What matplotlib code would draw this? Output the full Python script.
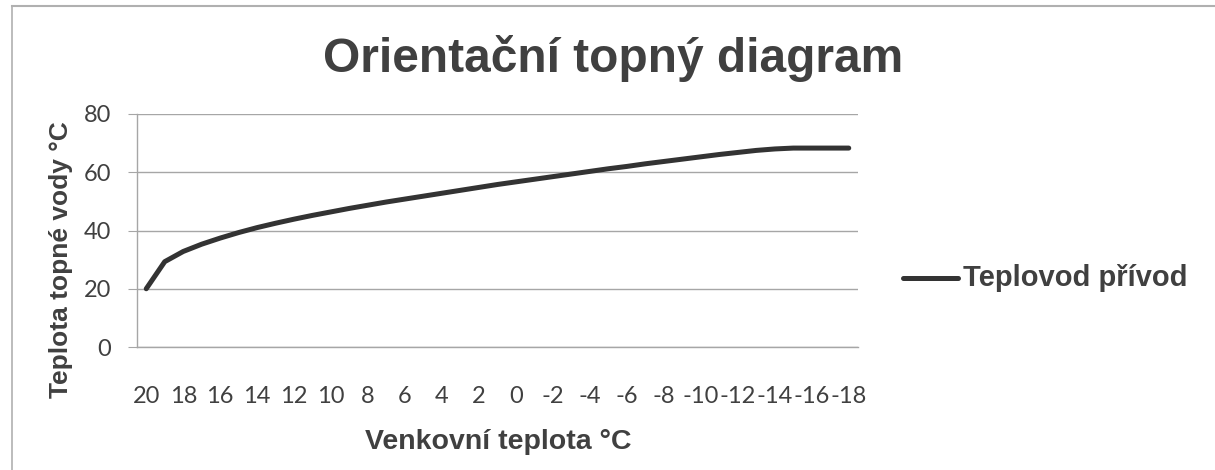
import matplotlib
matplotlib.use("Agg")
import matplotlib.pyplot as plt
from matplotlib.lines import Line2D

# outdoor temperature categories (°C), 20 down to -18
outdoor = list(range(20, -19, -1))
# supply water temperature (°C)
supply = [20, 29.3, 32.8, 35.3, 37.4, 39.3, 41.0, 42.5, 43.9, 45.2,
          46.4, 47.6, 48.7, 49.8, 50.8, 51.8, 52.8, 53.8, 54.8, 55.8,
          56.7, 57.6, 58.5, 59.4, 60.3, 61.2, 62.0, 62.9, 63.7, 64.5,
          65.3, 66.1, 66.8, 67.5, 68.0, 68.3, 68.3, 68.3, 68.3]
y_ticks = [0, 20, 40, 60, 80]

title = "Orientační topný diagram"
x_label = "Venkovní teplota °C"
y_label = "Teplota topné vody °C"
series_name = "Teplovod přívod"

text_col = "#404040"
grid_col = "#a6a6a6"

fig = plt.figure(figsize=(12.15, 4.70), dpi=100)
ax = fig.add_axes([137 / 1215, 1 - 347 / 470, (858 - 137) / 1215, (347 - 114) / 470])

pos = list(range(len(outdoor)))
ax.plot(pos, supply, color="#333333", lw=3.6, solid_capstyle="round",
        solid_joinstyle="round", zorder=3)

ax.set_xlim(-0.5, len(outdoor) - 0.5)
ax.set_ylim(0, 80)
ax.set_yticks(y_ticks)
ax.set_xticks(pos[::2])
ax.set_xticklabels([str(v) for v in outdoor[::2]])
ax.yaxis.grid(True, color=grid_col, lw=1)
ax.set_axisbelow(True)

for s in ["top", "right"]:
    ax.spines[s].set_visible(False)
for s in ["left", "bottom"]:
    ax.spines[s].set_color(grid_col)
    ax.spines[s].set_linewidth(1)

ax.tick_params(axis="y", length=6.5, color=grid_col, labelsize=17,
               labelcolor=text_col, pad=12)
ax.tick_params(axis="x", length=0, labelsize=17, labelcolor=text_col, pad=28)
for lab in ax.get_xticklabels() + ax.get_yticklabels():
    lab.set_family("Lato")

bold = dict(family="Liberation Sans", weight="bold", color=text_col)
fig.text(613 / 1215, 1 - 58 / 470, title, ha="center", va="center", fontsize=34.5, **bold)
fig.text(498 / 1215, 1 - 442 / 470, x_label, ha="center", va="center", fontsize=20.5, **bold)
fig.text(61 / 1215, 1 - 260 / 470, y_label, ha="center", va="center", rotation=90,
         fontsize=19, **bold)

# legend
fig.add_artist(Line2D([903 / 1215, 958 / 1215], [1 - 278 / 470, 1 - 278 / 470],
                      color="#333333", lw=3.6, solid_capstyle="round"))
fig.text(963 / 1215, 1 - 278 / 470, series_name, ha="left", va="center",
         fontsize=21, **bold)

# chart frame
fig.add_artist(Line2D([12 / 1215, 12 / 1215], [1 - 6 / 470, 0], color="#b0b0b0", lw=1.2))
fig.add_artist(Line2D([12 / 1215, 1], [1 - 6 / 470, 1 - 6 / 470], color="#b0b0b0", lw=1.5))

fig.savefig("out.png", dpi=100, facecolor="white")
